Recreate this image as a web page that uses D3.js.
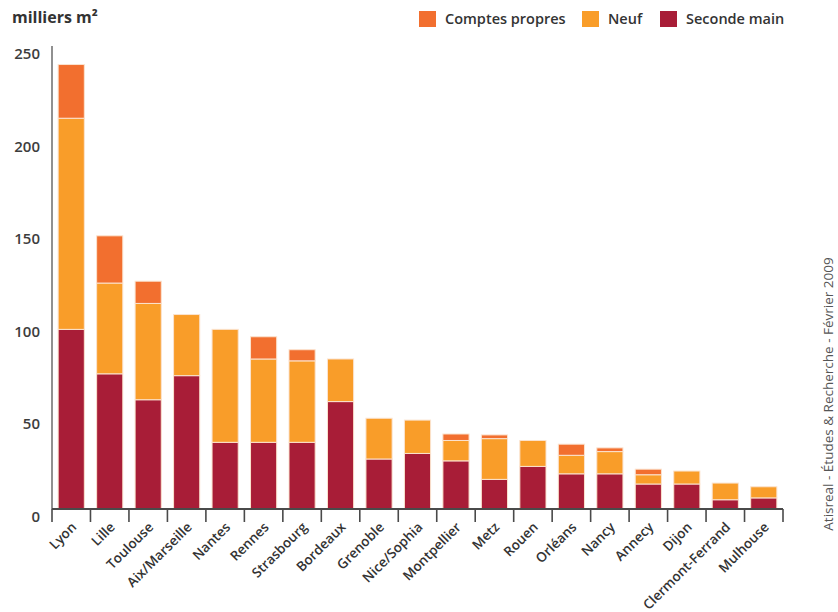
<!DOCTYPE html>
<html><head><meta charset="utf-8">
<script src="https://cdn.jsdelivr.net/npm/d3@7"></script>
<style>
html,body{margin:0;padding:0;background:#fff;}
svg{display:block;font-family:"Open Sans","Noto Sans",sans-serif;}
</style></head>
<body>
<svg id="chart" width="838" height="612"></svg>
<script>
const categories = ["Lyon","Lille","Toulouse","Aix/Marseille","Nantes","Rennes","Strasbourg","Bordeaux","Grenoble","Nice/Sophia","Montpellier","Metz","Rouen","Orléans","Nancy","Annecy","Dijon","Clermont-Ferrand","Mulhouse"];
const secondeMain    = [97, 73, 59, 72, 36, 36, 36, 58, 27, 30, 26, 16, 23, 19, 19, 13.5, 13.5, 5, 6];
const neuf           = [114, 49, 52, 33, 61, 45, 44, 23, 22, 18, 11, 22, 14, 10, 12, 5, 7, 9, 6];
const comptesPropres = [29, 25.5, 12, 0, 0, 12, 6, 0, 0, 0, 3.5, 2, 0, 6, 2, 3, 0, 0, 0];
const yTicks = [0, 50, 100, 150, 200, 250];
const seriesNames = ["Seconde main", "Neuf", "Comptes propres"];
const legendOrder = ["Comptes propres", "Neuf", "Seconde main"];
const colors = {"Seconde main":"#a81d37", "Neuf":"#f99d29", "Comptes propres":"#f26f2f"};

const svg = d3.select("#chart");
const x0 = 52, x1 = 783, yBase = 509, yTop = 46;

const rows = categories.map((c,i)=>({city:c, "Seconde main":secondeMain[i], "Neuf":neuf[i], "Comptes propres":comptesPropres[i]}));
const stack = d3.stack().keys(seriesNames)(rows);

const x = d3.scaleBand().domain(categories).range([x0, x1]).paddingInner(0.32).paddingOuter(0.16);
const y = d3.scaleLinear().domain([0, 250]).range([yBase, yTop]);

// bars
svg.append("g").selectAll("g").data(stack).join("g")
  .attr("fill", d => colors[d.key])
  .selectAll("rect").data(d => d.filter(s => s[1] - s[0] > 0)).join("rect")
  .attr("x", d => x(d.data.city))
  .attr("width", x.bandwidth())
  .attr("y", d => y(d[1]))
  .attr("height", d => y(d[0]) - y(d[1]))
  .attr("stroke", "#fbe3cf")
  .attr("stroke-width", 1);

// y axis line
svg.append("line").attr("x1", x0).attr("x2", x0).attr("y1", yTop).attr("y2", yBase)
  .attr("stroke", "#6b6b6b").attr("stroke-width", 1.5);

// y tick labels
svg.append("g").selectAll("text").data(yTicks).join("text")
  .attr("x", 40).attr("y", d => y(d) + 13)
  .attr("text-anchor", "end")
  .attr("font-size", 15).attr("font-weight", 600).attr("fill", "#3d3d3d")
  .text(d => d);

// x axis line and ticks at band boundaries
svg.append("line").attr("x1", x0).attr("x2", x1).attr("y1", yBase).attr("y2", yBase)
  .attr("stroke", "#4a4a4a").attr("stroke-width", 2);
const step = x.step();
const bounds = d3.range(categories.length + 1);
const boundX = i => i === categories.length ? x1 : x(categories[i]) - step * x.paddingInner() / 2;
svg.append("g").selectAll("line").data(bounds).join("line")
  .attr("x1", boundX).attr("x2", boundX)
  .attr("y1", yBase).attr("y2", yBase + 13)
  .attr("stroke", "#4a4a4a").attr("stroke-width", 1.6);

// x labels
svg.append("g").selectAll("text").data(categories).join("text")
  .attr("transform", d => `translate(${x(d) + x.bandwidth()/2 + 6},${yBase + 19}) rotate(-45)`)
  .attr("text-anchor", "end")
  .attr("font-size", 13.5).attr("font-weight", 600).attr("fill", "#333")
  .text(d => d);

// unit title
svg.append("text").attr("x", 12).attr("y", 23)
  .attr("font-size", 16).attr("font-weight", 700).attr("fill", "#333")
  .text("milliers m²");

// legend
const legX = [419, 582, 660];
const lg = svg.append("g").selectAll("g").data(legendOrder).join("g")
  .attr("transform", (d,i) => `translate(${legX[i]},11)`);
lg.append("rect").attr("width", 17).attr("height", 16).attr("fill", d => colors[d]);
lg.append("text").attr("x", 26).attr("y", 13)
  .attr("font-size", 14.5).attr("font-weight", 600).attr("fill", "#333")
  .text(d => d);

// source
svg.append("text")
  .attr("transform", "translate(833,394) rotate(-90)")
  .attr("text-anchor", "middle")
  .attr("font-size", 13.5).attr("fill", "#555")
  .text("Atisreal - Études & Recherche - Février 2009");
</script>
</body></html>
